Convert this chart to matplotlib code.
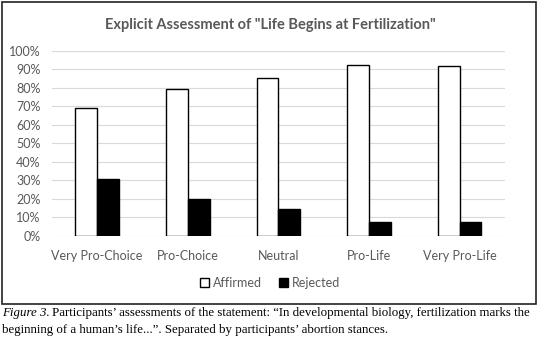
import matplotlib.pyplot as plt
import numpy as np
from matplotlib.patches import Rectangle
from matplotlib.ticker import PercentFormatter

# data
stances = ['Very Pro-Choice', 'Pro-Choice', 'Neutral', 'Pro-Life', 'Very Pro-Life']
affirmed = [69.2, 79.6, 85.6, 92.4, 92.1]
rejected = [30.8, 20.2, 14.4, 7.6, 7.8]

gray = '#595959'
plt.rcParams['font.family'] = ['Lato', 'DejaVu Sans']

fig = plt.figure(figsize=(5.4, 3.4), dpi=100)
ax = fig.add_axes([0.096, 0.306, 0.839, 0.544])

x = np.arange(len(stances))
w = 0.24
ax.bar(x - w / 2, affirmed, w, color='white', edgecolor='black', linewidth=1.0, label='Affirmed', zorder=3)
ax.bar(x + w / 2, rejected, w, color='black', edgecolor='black', linewidth=1.0, label='Rejected', zorder=3)

ax.set_xlim(-0.5, len(stances) - 0.5)
ax.set_ylim(0, 100)
ax.set_yticks(np.arange(0, 101, 10))
ax.yaxis.set_major_formatter(PercentFormatter(decimals=0))
ax.set_xticks(x)
ax.set_xticklabels(stances)
ax.grid(axis='y', color='#d9d9d9', linewidth=0.8, zorder=0)
for s in ax.spines.values():
    s.set_visible(False)
ax.tick_params(length=0, colors=gray, labelsize=9, pad=8)
ax.tick_params(axis='x', pad=10)

fig.text(0.5, 0.925, 'Explicit Assessment of "Life Begins at Fertilization"',
         ha='center', va='center', fontsize=10.5, fontweight='bold', color=gray)

leg = fig.legend(loc='center', bbox_to_anchor=(0.5, 0.168), ncol=2, frameon=False,
                 fontsize=9, handlelength=0.7, handleheight=0.7, handletextpad=0.3,
                 columnspacing=1.4)
for t in leg.get_texts():
    t.set_color(gray)

# chart frame
fig.patches.append(Rectangle((0.004, 0.106), 0.988, 0.888, transform=fig.transFigure,
                             fill=False, edgecolor='#222222', linewidth=1.2))

# caption
cap = dict(fontsize=9.3, family='Liberation Serif', va='center')
t1 = fig.text(0.004, 0.078, 'Figure 3.', fontstyle='italic', **cap)
fig.canvas.draw()
bb = t1.get_window_extent().transformed(fig.transFigure.inverted())
fig.text(bb.x1 + 0.004, 0.078, 'Participants\u2019 assessments of the statement: \u201cIn developmental biology, '
         'fertilization marks the', **cap)
fig.text(0.004, 0.028, 'beginning of a human\u2019s life...\u201d. Separated by participants\u2019 abortion stances.',
         **cap)

fig.savefig('out.png', dpi=100)
